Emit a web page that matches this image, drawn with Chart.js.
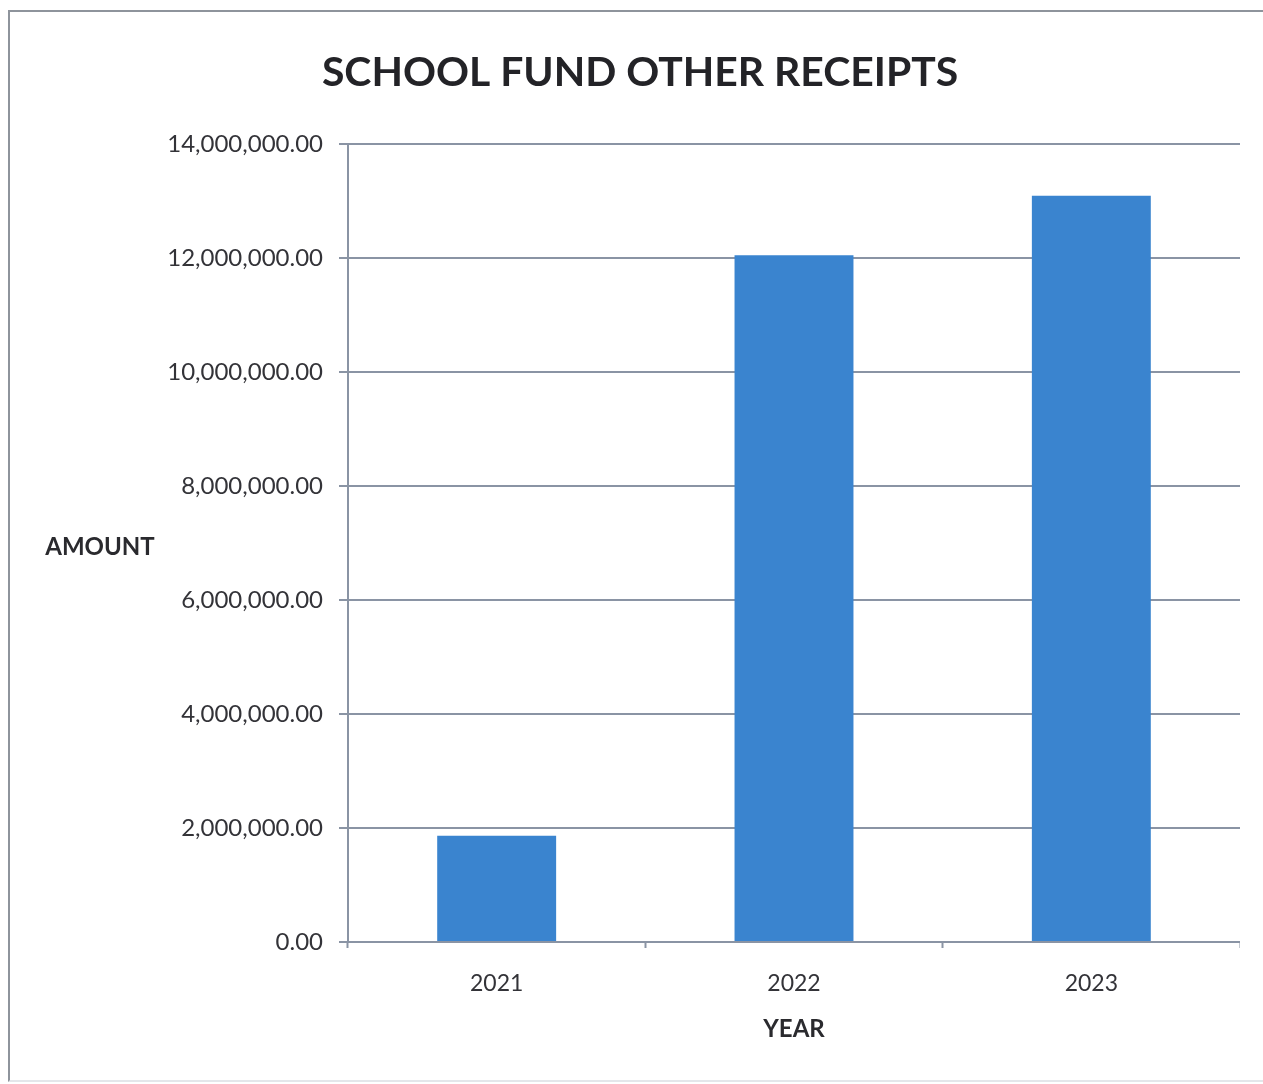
<!DOCTYPE html>
<html>
<head>
<meta charset="utf-8">
<script src="https://cdn.jsdelivr.net/npm/chart.js@4/dist/chart.umd.min.js"></script>
<style>
  html, body { margin: 0; padding: 0; background: #fff; width: 1263px; height: 1084px; overflow: hidden; }
  #frame { position: absolute; left: 8px; top: 10px; width: 1300px; height: 1068px;
           border-left: 2px solid #8e949c; border-top: 2px solid #8e949c; border-bottom: 2px solid #e4e6ea; }
  #wrap { position: absolute; left: 0; top: 0; }
</style>
</head>
<body>
<div id="frame"></div>
<div id="wrap"><canvas id="c" width="1240" height="1084"></canvas></div>
<script>
const categories = ["2021", "2022", "2023"];
const amounts = [1865000, 12050000, 13090000];
const yTicks = [0, 2000000, 4000000, 6000000, 8000000, 10000000, 12000000, 14000000];
const chartTitle = "SCHOOL FUND OTHER RECEIPTS";
const yTitle = "AMOUNT";
const xTitle = "YEAR";

const FONT = "Lato, 'Open Sans', 'DejaVu Sans', sans-serif";

// size the bold title so that it spans the same width as in the reference
function pickTitleSize() {
  const cv = document.createElement('canvas').getContext('2d');
  cv.font = "bold 40px " + FONT;
  const w = cv.measureText(chartTitle).width;
  return Math.round(40 * 636 / w * 10) / 10;
}
const titleSize = pickTitleSize();
const titleLH = titleSize * 1.2;
const titlePadTop = 73 - titleLH / 2;
const titlePadBottom = 144 - titlePadTop - titleLH;

const yTitlePlugin = {
  id: 'yTitle',
  afterDraw(chart) {
    const ctx = chart.ctx;
    const a = chart.chartArea;
    ctx.save();
    ctx.font = "bold 24px " + FONT;
    ctx.fillStyle = "#2a2a2e";
    ctx.textAlign = "center";
    ctx.textBaseline = "middle";
    ctx.fillText(yTitle, a.left - 248, (a.top + a.bottom) / 2 + 4);
    ctx.restore();
  }
};

new Chart(document.getElementById('c'), {
  type: 'bar',
  data: {
    labels: categories,
    datasets: [{
      label: 'Amount',
      data: amounts,
      backgroundColor: '#3a84cf',
      borderWidth: 0,
      categoryPercentage: 1.0,
      barPercentage: 0.4
    }]
  },
  options: {
    responsive: false,
    devicePixelRatio: 1,
    animation: false,
    layout: { padding: { left: 40, right: 0, top: 0, bottom: 0 } },
    plugins: {
      legend: { display: false },
      tooltip: { enabled: false },
      title: {
        display: true,
        text: chartTitle,
        color: '#232327',
        font: { family: FONT, size: titleSize, weight: 'bold', lineHeight: 1.2 },
        padding: { top: titlePadTop, bottom: titlePadBottom }
      }
    },
    scales: {
      x: {
        grid: {
          display: true,
          drawOnChartArea: false,
          drawTicks: true,
          tickLength: 6,
          tickWidth: 2,
          tickColor: '#8a94a4',
          offset: true
        },
        border: { display: true, color: '#8a94a4', width: 2 },
        ticks: {
          color: '#333338',
          font: { family: FONT, size: 23 },
          padding: 22
        },
        title: {
          display: true,
          text: xTitle,
          color: '#2a2a2e',
          font: { family: FONT, size: 24, weight: 'bold' },
          padding: { top: 0, bottom: 40 }
        },
        afterFit(scale) { scale.height = 142; }
      },
      y: {
        min: 0,
        max: 14000000,
        afterBuildTicks(scale) { scale.ticks = yTicks.map(v => ({ value: v })); },
        grid: {
          color: '#8a94a4',
          lineWidth: 2,
          drawTicks: true,
          tickLength: 9,
          tickColor: '#8a94a4'
        },
        border: { display: true, color: '#8a94a4', width: 2 },
        ticks: {
          color: '#333338',
          font: { family: FONT, size: 24 },
          padding: 16,
          callback(v) {
            return Number(v).toLocaleString('en-US', { minimumFractionDigits: 2, maximumFractionDigits: 2 });
          }
        },
        afterFit(scale) { scale.width = 308; }
      }
    }
  },
  plugins: [yTitlePlugin]
});
</script>
</body>
</html>
